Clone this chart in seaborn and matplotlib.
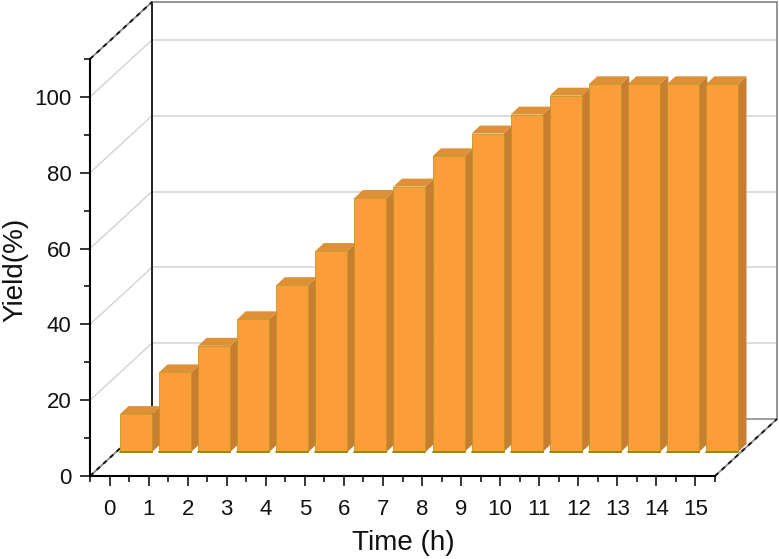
import numpy as np
import pandas as pd
import matplotlib
matplotlib.use('Agg')
import matplotlib.pyplot as plt
from matplotlib.patches import Polygon
from matplotlib.transforms import IdentityTransform, offset_copy
import seaborn as sns

# Values
hours = list(range(16))
yields = [10, 21, 28, 35, 44, 53, 67, 70, 78, 84, 89, 94, 97, 97, 97, 97]
y_ticks = [0, 20, 40, 60, 80, 100]

data = pd.DataFrame({'Time': hours, 'Yield': yields})

sns.set_theme(style='white')
plt.rcParams['font.family'] = ['Liberation Sans', 'DejaVu Sans']

fig = plt.figure(figsize=(7.79, 5.59), dpi=100)
ax = fig.add_axes([90 / 779, 1 - 476 / 559, 625 / 779, 417 / 559])

# depth of the fake 3D box and of the bars, in pixels
box_dx, box_dy = 62, 57
bar_dx, bar_dy = 26.5, 24
side_dx, side_dy = 8.5, 8

front = '#FC9C3A'
top_col = '#DE9036'
side_col = '#C77E30'
edge = '#B89A20'

sns.barplot(data=data, x='Time', y='Yield', native_scale=True, width=0.82,
            color=front, saturation=1, errorbar=None, edgecolor=edge,
            linewidth=0.6, zorder=4, ax=ax)

ax.set_xlim(-0.5, 15.5)
ax.set_ylim(0, 110)

# push the front faces back onto the floor of the box
bar_shift = offset_copy(ax.transData, fig=fig, x=bar_dx, y=bar_dy, units='dots')
for p in ax.patches:
    p.set_transform(bar_shift)
    p.set_clip_on(False)


def px(x, y, dx=0, dy=0):
    # data position to pixels, plus a depth offset
    a, b = ax.transData.transform((x, y))
    return a + dx, b + dy


def line(p0, p1, color, lw, zorder=1, **kw):
    ax.plot([p0[0], p1[0]], [p0[1], p1[1]], color=color, lw=lw, zorder=zorder,
            transform=IdentityTransform(), clip_on=False, **kw)


# back wall
x0, x1 = ax.get_xlim()
for v in y_ticks[1:]:
    line(px(x0, v, box_dx, box_dy), px(x1, v, box_dx, box_dy), '#D2D2D2', 1.1)
    line(px(x0, v), px(x0, v, box_dx, box_dy), '#D2D2D2', 1.0)
line(px(x0, 110, box_dx, box_dy), px(x1, 110, box_dx, box_dy), '#8C8C8C', 1.3)
line(px(x0, 0, box_dx, box_dy), px(x1, 0, box_dx, box_dy), '#8C8C8C', 1.2)
line(px(x1, 0, box_dx, box_dy), px(x1, 110, box_dx, box_dy), '#8C8C8C', 1.3)
line(px(x0, 0, box_dx, box_dy), px(x0, 110, box_dx, box_dy), '#111111', 1.3)

# box edges that run into the depth
for a, b in [(x0, 0), (x0, 110), (x1, 0)]:
    line(px(a, b), px(a, b, box_dx, box_dy), '#8C8C8C', 1.3, zorder=2)
    line(px(a, b), px(a, b, box_dx, box_dy), '#111111', 1.3, zorder=2,
         dashes=(2.5, 2.5))

# side and top faces of each bar
half = 0.41
for h, v in zip(hours, yields):
    bl = px(h + half, 0, bar_dx, bar_dy)
    tr = px(h + half, v, bar_dx, bar_dy)
    tl = px(h - half, v, bar_dx, bar_dy)
    side = [bl, tr, (tr[0] + side_dx, tr[1] + side_dy), (bl[0] + side_dx, bl[1] + side_dy)]
    top = [tl, tr, (tr[0] + side_dx, tr[1] + side_dy), (tl[0] + side_dx, tl[1] + side_dy)]
    ax.add_patch(Polygon(side, closed=True, facecolor=side_col, edgecolor='none',
                         transform=IdentityTransform(), clip_on=False, zorder=3))
    ax.add_patch(Polygon(top, closed=True, facecolor=top_col, edgecolor='none',
                         transform=IdentityTransform(), clip_on=False, zorder=3))
    # olive line along the foot of the bar
    line(px(h - half, 0, bar_dx, bar_dy), bl, '#8C8C00', 1.3, zorder=5)

# axes
for s in ['top', 'right']:
    ax.spines[s].set_visible(False)
for s in ['left', 'bottom']:
    ax.spines[s].set_linewidth(1.5)
    ax.spines[s].set_color('black')
    ax.spines[s].set_zorder(6)

ax.set_xticks(hours)
ax.set_xticks(np.arange(-0.5, 16, 1), minor=True)
ax.set_yticks(y_ticks)
ax.set_yticks(np.arange(10, 120, 20), minor=True)
ax.tick_params(which='major', direction='out', length=7.5, width=1.1, color='black',
               labelsize=16, labelcolor='#111111', bottom=True, left=True)
ax.tick_params(axis='x', which='major', pad=9)
ax.tick_params(axis='y', which='major', pad=6)
ax.tick_params(which='minor', direction='out', length=4, width=1.1, color='black',
               bottom=True, left=True)

ax.set_xlabel('Time (h)', fontsize=20, color='#111111')
ax.set_ylabel('Yield(%)', fontsize=20, color='#111111')
ax.xaxis.set_label_coords((403 - 90) / 625, -(543 - 476) / 417, transform=ax.transAxes)
ax.yaxis.set_label_coords(-(90 - 15) / 625, (476 - 270) / 417, transform=ax.transAxes)
ax.xaxis.label.set_verticalalignment('center')
ax.yaxis.label.set_verticalalignment('center')

plt.savefig('out.png', dpi=100)
